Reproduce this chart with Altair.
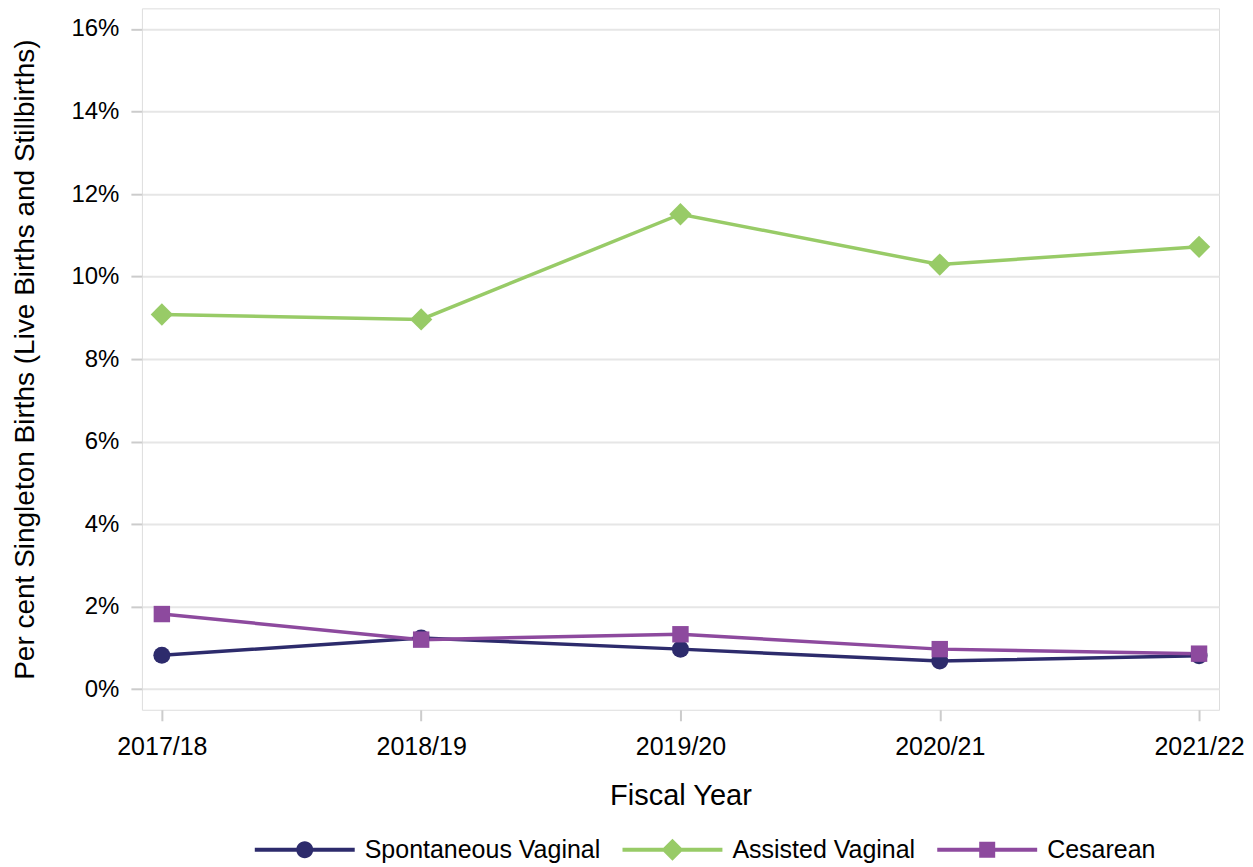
import altair as alt
import pandas as pd

years = ["2017/18", "2018/19", "2019/20", "2020/21", "2021/22"]
series = ["Spontaneous Vaginal", "Assisted Vaginal", "Cesarean"]
spontaneous = [0.82, 1.24, 0.97, 0.68, 0.81]
assisted = [9.08, 8.96, 11.51, 10.29, 10.72]
cesarean = [1.82, 1.20, 1.33, 0.97, 0.86]
y_ticks = [0, 2, 4, 6, 8, 10, 12, 14, 16]

values = {series[0]: spontaneous, series[1]: assisted, series[2]: cesarean}
rows = [{"Year": yr, "Type": s, "Value": v}
        for s in series for yr, v in zip(years, values[s])]
df = pd.DataFrame(rows)

colors = ["#2d2b6c", "#98cb67", "#8d4a9e"]
color_of = dict(zip(series, colors))
marker_shapes = {series[0]: "circle", series[1]: "diamond", series[2]: "square"}
marker_sizes = {series[0]: 290, series[1]: 500, series[2]: 270}


def seg(x0, x1, t):
    return f"M{x0},{-t}L{x1},{-t}L{x1},{t}L{x0},{t}Z"


line_part = seg(-1, -0.1, 0.04) + seg(0.1, 1, 0.04)
r = 0.17
circle_p = f"M{-r},0A{r},{r},0,1,1,{r},0A{r},{r},0,1,1,{-r},0Z"
d = 0.22
diamond_p = f"M0,{-d}L{d},0L0,{d}L{-d},0Z"
sq = 0.16
square_p = seg(-sq, sq, sq)
legend_paths = [line_part + circle_p, line_part + diamond_p, line_part + square_p]

FONT = "Liberation Sans"

x_enc = alt.X(
    "Year:N", sort=years, title="Fiscal Year",
    scale=alt.Scale(type="point", padding=0.077),
    axis=alt.Axis(labelAngle=0, grid=False, domain=False, tickSize=11, tickWidth=2,
                  tickColor="#cccccc", labelPadding=14, labelFontSize=25,
                  titleFontSize=29, titlePadding=22, titleFontWeight="normal",
                  labelFont=FONT, titleFont=FONT, labelColor="#000000", titleColor="#000000"),
)
y_enc = alt.Y(
    "Value:Q", title="Per cent Singleton Births (Live Births and Stillbirths)",
    scale=alt.Scale(domain=[-0.5, 16.5], nice=False, zero=False),
    axis=alt.Axis(values=y_ticks, labelExpr="datum.value + '%'", domain=False,
                  tickSize=11, tickWidth=2, tickColor="#cccccc", labelPadding=12,
                  labelFontSize=24, titleFontSize=28, titlePadding=31,
                  titleFontWeight="normal", labelFont=FONT, titleFont=FONT,
                  labelColor="#000000", titleColor="#000000",
                  gridColor="#e6e6e6", gridWidth=2),
)

base = alt.Chart(df)

layers = []
for s in series:
    layers.append(
        base.transform_filter(alt.datum.Type == s)
        .mark_line(strokeWidth=3.5, color=color_of[s])
        .encode(x=x_enc, y=y_enc)
    )
for s in series:
    layers.append(
        base.transform_filter(alt.datum.Type == s)
        .mark_point(filled=True, opacity=1, shape=marker_shapes[s],
                    size=marker_sizes[s], color=color_of[s])
        .encode(x=x_enc, y=y_enc)
    )

leg = alt.Legend(orient="none", legendX=113, legendY=792, padding=0,
                 direction="horizontal", title=None,
                 symbolSize=10000, symbolOpacity=1, symbolStrokeWidth=0,
                 labelFontSize=25, labelFont=FONT, labelColor="#000000",
                 labelLimit=0, labelOffset=10, columnPadding=22)

legend_layer = base.mark_point(filled=True, opacity=0, size=10).encode(
    x=x_enc, y=y_enc,
    color=alt.Color("Type:N", scale=alt.Scale(domain=series, range=colors), legend=leg),
    shape=alt.Shape("Type:N", scale=alt.Scale(domain=series, range=legend_paths), legend=leg),
)
layers.append(legend_layer)

chart = alt.layer(*layers).properties(
    width=1078, height=702,
    padding={"left": 3, "top": 0, "right": 0, "bottom": 0},
).configure_view(
    stroke="#cccccc", strokeWidth=2
).configure(background="white")

chart.save("out.html", embed_options={"renderer": "svg", "actions": False})
